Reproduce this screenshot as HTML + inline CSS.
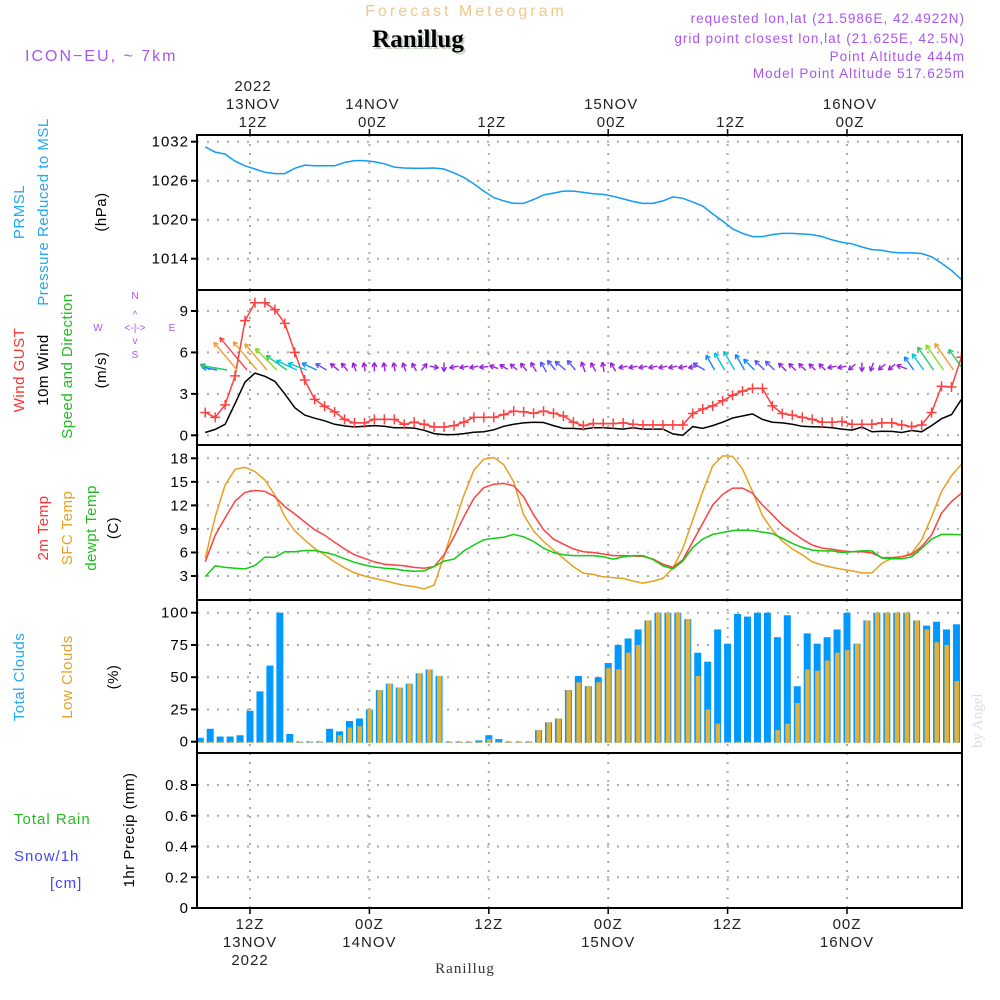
<!DOCTYPE html>
<html><head><meta charset="utf-8">
<style>
html,body{margin:0;padding:0;background:#fff;}
svg{display:block;font-family:"Liberation Sans",sans-serif;}
</style></head>
<body>
<svg id="chart" width="1000" height="1000" viewBox="0 0 1000 1000" xmlns="http://www.w3.org/2000/svg">
<defs><clipPath id="pc"><rect x="197" y="135" width="765" height="773"/></clipPath></defs>
<rect width="1000" height="1000" fill="#fff"/>
<text x="466" y="16" text-anchor="middle" font-size="16" letter-spacing="3" fill="#f0c888">Forecast Meteogram</text>
<text x="420" y="49" text-anchor="middle" font-family="Liberation Serif,serif" font-weight="bold" font-size="25" fill="#c4d4c4">Ranillug</text>
<text x="418" y="47" text-anchor="middle" font-family="Liberation Serif,serif" font-weight="bold" font-size="25" fill="#000">Ranillug</text>
<text x="25" y="61" font-size="16" letter-spacing="2" fill="#aa55ee">ICON−EU, ~ 7km</text>
<g font-size="13.5" letter-spacing="1" fill="#aa55ee" text-anchor="end">
<text x="965" y="23">requested lon,lat (21.5986E, 42.4922N)</text>
<text x="965" y="43">grid point closest lon,lat (21.625E, 42.5N)</text>
<text x="965" y="61">Point Altitude 444m</text>
<text x="965" y="78">Model Point Altitude 517.625m</text>
</g>
<g font-size="15" letter-spacing="0.5">
<text transform="translate(24,212) rotate(-90)" text-anchor="middle" fill="#22a8f0">PRMSL</text>
<text transform="translate(48,212) rotate(-90)" text-anchor="middle" fill="#22a8f0">Pressure Reduced to MSL</text>
<text transform="translate(106,212) rotate(-90)" text-anchor="middle" fill="#000">(hPa)</text>
<text transform="translate(24,370) rotate(-90)" text-anchor="middle" fill="#ff3333">Wind GUST</text>
<text transform="translate(48,370) rotate(-90)" text-anchor="middle" fill="#000">10m Wind</text>
<text transform="translate(72,366) rotate(-90)" text-anchor="middle" fill="#22bb22">Speed and Direction</text>
<text transform="translate(106,370) rotate(-90)" text-anchor="middle" fill="#000">(m/s)</text>
<text transform="translate(48,528) rotate(-90)" text-anchor="middle" fill="#ff3333">2m Temp</text>
<text transform="translate(72,528) rotate(-90)" text-anchor="middle" fill="#e8a020">SFC Temp</text>
<text transform="translate(96,528) rotate(-90)" text-anchor="middle" fill="#22bb22">dewpt Temp</text>
<text transform="translate(118,528) rotate(-90)" text-anchor="middle" fill="#000">(C)</text>
<text transform="translate(24,677) rotate(-90)" text-anchor="middle" fill="#22a8f0">Total Clouds</text>
<text transform="translate(72,677) rotate(-90)" text-anchor="middle" fill="#e8a020">Low Clouds</text>
<text transform="translate(118,677) rotate(-90)" text-anchor="middle" fill="#000">(%)</text>
<text x="14" y="824" fill="#22bb22" letter-spacing="1">Total  Rain</text>
<text x="14" y="861" fill="#4444ff" letter-spacing="1">Snow/1h</text>
<text x="50" y="888" fill="#4444ff" letter-spacing="1">[cm]</text>
<text transform="translate(134,830) rotate(-90)" text-anchor="middle" fill="#000">1hr Precip (mm)</text>
</g>
<g font-size="10" fill="#aa55ee" text-anchor="middle">
<text x="135" y="299">N</text><text x="135" y="358">S</text>
<text x="98" y="331">W</text><text x="172" y="331">E</text>
<text x="135" y="331">&lt;-|-&gt;</text>
<text x="135" y="318">^</text><text x="135" y="344">v</text>
</g>
<text transform="translate(982,748) rotate(-90)" font-family="Liberation Serif,serif" font-size="15" fill="#dddddd">by Angel</text>
<text x="465" y="973" text-anchor="middle" font-family="Liberation Serif,serif" font-size="15" fill="#333" letter-spacing="1">Ranillug</text>
<g id="plot"></g>
</svg>
<script>
const pressure = [1031.2,1030.4,1030.1,1029.0,1028.3,1027.8,1027.3,1027.1,1027.1,1027.9,1028.4,1028.3,1028.3,1028.3,1028.8,1029.1,1029.1,1028.9,1028.6,1028.1,1027.95,1027.9,1027.9,1027.95,1027.8,1027.2,1026.5,1025.5,1024.4,1023.4,1022.9,1022.5,1022.5,1023.1,1023.8,1024.1,1024.4,1024.4,1024.2,1024.0,1023.9,1023.6,1023.2,1022.8,1022.5,1022.5,1022.9,1023.5,1023.3,1022.7,1022.1,1020.9,1019.8,1018.6,1017.9,1017.4,1017.4,1017.7,1017.9,1017.9,1017.8,1017.7,1017.4,1016.9,1016.5,1016.3,1015.8,1015.4,1015.3,1015.0,1014.9,1014.9,1014.8,1014.3,1013.3,1012.2,1010.8];
const gust = [1.65,1.3,2.2,4.3,8.3,9.6,9.6,9.1,8.1,6.0,4.0,2.6,2.1,1.7,1.15,0.9,0.9,1.15,1.15,1.15,0.8,0.95,0.8,0.6,0.6,0.7,0.95,1.3,1.3,1.3,1.5,1.75,1.7,1.6,1.75,1.6,1.4,0.95,0.7,0.85,0.85,0.85,0.9,0.8,0.75,0.75,0.75,0.75,0.75,1.58,1.9,2.13,2.5,2.9,3.2,3.4,3.4,2.13,1.58,1.46,1.3,1.15,0.95,0.95,1.0,0.8,0.8,0.8,0.9,0.9,0.75,0.63,0.75,1.65,3.55,3.5,5.65];
const wind = [0.2,0.43,0.8,2.3,3.85,4.5,4.27,3.9,3.0,2.0,1.46,1.24,1.05,0.8,0.68,0.6,0.65,0.7,0.65,0.55,0.55,0.52,0.36,0.12,0.05,0.05,0.12,0.22,0.26,0.4,0.65,0.8,0.9,0.95,0.93,0.7,0.5,0.5,0.45,0.55,0.55,0.5,0.45,0.55,0.45,0.45,0.45,0.1,0.0,0.63,0.5,0.7,0.95,1.25,1.4,1.55,1.15,0.95,0.9,0.8,0.65,0.62,0.6,0.55,0.45,0.38,0.6,0.25,0.3,0.28,0.2,0.35,0.25,0.7,1.2,1.5,2.6];
const windDir = [-60,-80,-80,-40,-40,-40,-40,-45,-55,-65,-70,-65,-60,-50,-40,-20,-10,0,-10,-10,-20,-30,40,100,180,-100,-100,-100,-95,-70,-60,-50,-40,-30,-30,-40,-50,-40,-20,-30,-10,-30,-100,-100,-100,-100,-100,-100,-100,-100,-60,-30,-30,-30,-30,-45,-45,-45,-45,-45,-45,-45,-45,-100,-100,-130,180,-160,-130,-130,-70,-35,-35,-35,-35,-35,-35];
const windArrowSpeed = [1.0,1.5,2.8,3.8,4.5,3.9,3.6,3.2,2.6,2.3,2.0,1.6,1.2,1.0,0.9,0.8,0.8,0.8,0.8,0.8,0.8,0.8,0.8,0.8,0.8,0.8,0.8,0.8,0.8,0.8,0.8,0.8,0.9,1.0,1.1,1.2,1.3,1.2,1.0,0.9,0.9,0.9,0.8,0.8,0.8,0.8,0.8,0.8,0.8,0.8,1.3,1.7,2.0,2.2,1.8,1.5,1.3,1.2,1.0,0.9,0.9,0.8,0.8,0.8,0.8,0.8,0.8,0.8,0.8,0.8,1.0,1.6,2.0,2.9,3.2,3.4,2.6];
const temp2m = [4.8,8.2,10.4,12.55,13.65,13.9,13.8,13.1,11.85,10.9,9.9,8.9,8.2,7.3,6.45,5.7,5.25,4.8,4.5,4.4,4.3,4.1,4.0,4.2,5.7,8.0,10.55,12.9,14.25,14.7,14.8,14.5,13.1,10.8,8.9,7.7,7.05,6.45,6.1,6.0,5.8,5.6,5.6,5.55,5.5,5.15,4.5,4.1,5.05,7.4,9.7,12.05,13.4,14.2,14.2,13.55,12.05,10.8,9.5,8.55,7.7,6.95,6.55,6.4,6.2,6.1,6.1,5.95,5.35,5.35,5.45,5.75,6.75,8.25,11.0,12.5,13.55];
const tempSfc = [5.25,10.55,14.6,16.6,16.85,16.3,15.25,13.3,10.55,8.75,7.6,6.5,5.7,4.8,4.05,3.4,3.0,2.7,2.4,2.1,1.8,1.65,1.35,1.85,5.5,9.5,13.3,16.5,17.9,18.1,17.2,15.0,10.8,8.75,7.4,6.3,5.25,4.2,3.35,3.2,2.9,2.8,2.7,2.35,2.1,2.35,2.7,4.0,6.5,10.15,13.75,17.05,18.3,18.25,16.65,13.75,10.7,8.85,7.45,6.45,5.7,4.8,4.4,4.1,3.85,3.65,3.4,3.4,4.6,5.25,5.45,5.9,7.6,10.55,13.75,15.8,17.25];
const dewpt = [2.9,4.3,4.1,4.0,3.9,4.35,5.4,5.4,6.1,6.1,6.25,6.25,6.0,5.7,5.2,4.75,4.4,4.15,4.0,3.9,3.7,3.6,3.65,4.2,4.9,5.15,6.2,6.95,7.6,7.8,7.95,8.3,8.0,7.4,6.55,6.0,5.7,5.6,5.6,5.6,5.45,5.15,5.45,5.6,5.6,5.1,4.3,3.9,4.9,6.65,7.7,8.3,8.55,8.8,8.85,8.8,8.6,8.4,7.8,7.15,6.65,6.3,6.2,6.2,6.0,6.1,6.2,6.2,5.3,5.2,5.2,5.45,6.5,7.7,8.3,8.3,8.25];
const totalClouds = [3,10,4,4,5,24,39,59,100,6,0,0,0,10,8,16,18,25,40,45,42,45,53,56,51,0,0,0,1,5,2,0,0,0,9,15,18,40,51,43,50,61,75,80,87,94,100,100,100,95,69,62,87,76,99,97,100,100,81,98,43,84,76,81,87,100,76,94,100,100,100,100,94,90,93,87,91];
const lowClouds = [0,0,0,0,0,0,0,0,0,0,0,0,0,0,5,11,12,25,40,45,42,45,53,56,51,0,0,0,0,2,0,0,0,0,9,15,18,40,46,43,46,57,56,69,75,94,100,100,100,95,51,25,14,0,0,0,0,0,9,14,30,56,55,63,69,71,76,94,100,100,100,100,94,87,77,75,47];
const pressureTicks = [1014,1020,1026,1032];
const windTicks = [0,3,6,9];
const tempTicks = [3,6,9,12,15,18];
const cloudTicks = [0,25,50,75,100];
const precipTicks = [0,0.2,0.4,0.6,0.8];
const timeTicks = [12,24,36,48,60,72];
const topLabels = [["2022","13NOV","12Z"],["14NOV","00Z"],["12Z"],["15NOV","00Z"],["12Z"],["16NOV","00Z"]];
const bottomLabels = [["12Z","13NOV","2022"],["00Z","14NOV"],["12Z"],["00Z","15NOV"],["12Z"],["00Z","16NOV"]];

const NS = "http://www.w3.org/2000/svg";
const plot = document.getElementById('plot');
const X0 = 197, X1 = 962;
function xh(h){ return 250 + (h-12)*9.95; }
function lin(v0,y0,v1,y1){ return v => y0 + (v-v0)*(y1-y0)/(v1-v0); }
const yP = lin(1014,258.7,1032,141.7);
const yW = lin(0,435.3,9,311);
const yT = lin(3,576,18,458.3);
const yC = lin(0,741.7,100,612.7);
const yR = lin(0,908,0.8,785);
const panels = [[135,290],[290,445],[445,600],[600,753],[753,908]];
function mk(tag, attrs, parent){
  const e = document.createElementNS(NS, tag);
  for (const k in attrs) e.setAttribute(k, attrs[k]);
  (parent||plot).appendChild(e);
  return e;
}
const marks = mk('g', {'clip-path':'url(#pc)'});
function gridAndAxis(pi, ticks, yf, fmt, name){
  const [t,b] = panels[pi];
  const g = mk('g', {});
  
  
  ticks.forEach(v => {
    const y = yf(v);
    const gl = mk('line', {x1:X0, x2:X1, y1:y, y2:y, stroke:'#aaa', 'stroke-width':2, 'stroke-dasharray':'2 8'}, g);
    
    
    mk('line', {x1:X0-6, x2:X0, y1:y, y2:y, stroke:'#000', 'stroke-width':2}, g);
    const tx = mk('text', {x:X0-8, y:y+5, 'text-anchor':'end', 'font-size':15, 'letter-spacing':1, fill:'#000'}, g);
    tx.textContent = fmt(v);
    
    
  });
  timeTicks.forEach(h => {
    const x = xh(h);
    mk('line', {x1:x, x2:x, y1:t, y2:b, stroke:'#aaa', 'stroke-width':2, 'stroke-dasharray':'2 7'}, g);
  });
}
gridAndAxis(0, pressureTicks, yP, v=>String(v), 'pressure');
gridAndAxis(1, windTicks, yW, v=>String(v), 'wind');
gridAndAxis(2, tempTicks, yT, v=>String(v), 'temperature');
gridAndAxis(3, cloudTicks, yC, v=>String(v), 'clouds');
gridAndAxis(4, precipTicks, yR, v=>v===0?'0':v.toFixed(1), 'precip');
plot.appendChild(marks);

function line(arr, yf, color, name){
  const pts = arr.map((v,i)=> xh(7.5+i).toFixed(1)+','+yf(v).toFixed(1)).join(' ');
  const p = mk('polyline', {points:pts, fill:'none', stroke:color, 'stroke-width':1.5}, marks);
  
  
  return p;
}
totalClouds.forEach((v,i)=>{
  const x = xh(7+i), y = yC(v);
  const r = mk('rect', {x:x-3.5, y:y, width:7, height:Math.max(yC(0)-y,0)+1, fill:'#0099ff'}, marks);
  
  
});
lowClouds.forEach((v,i)=>{
  const x = xh(7+i), y = yC(v);
  const r = mk('rect', {x:x-2, y:y, width:4.5, height:Math.max(yC(0)-y,0)+1, fill:'#e8b030'}, marks);
  
  
});
line(pressure, yP, '#119cf0', 'pressure-line');
line(wind, yW, '#000', 'wind-speed-line');
line(gust, yW, '#ff4040', 'wind-gust-line');
gust.forEach((v,i)=>{
  const x = xh(7.5+i), y = yW(v);
  const m = mk('path', {d:`M${x-5},${y}H${x+5}M${x},${y-5}V${y+5}`, stroke:'#ff4040', 'stroke-width':1.5}, marks);
  
  
});
function spdColor(s){
  if (s<1.1) return '#9922dd';
  if (s<1.5) return '#5555ff';
  if (s<2.0) return '#1188ff';
  if (s<2.4) return '#00c8d8';
  if (s<3.0) return '#22cc66';
  if (s<3.4) return '#88dd22';
  if (s<4.0) return '#f0a030';
  return '#ff4444';
}
windDir.forEach((d,i)=>{
  const s = windArrowSpeed[i];
  const L = 9 + Math.max(0, s-0.8)*9;
  const a = d*Math.PI/180;
  const dx = Math.sin(a), dy = -Math.cos(a);
  let x0 = xh(7.5+i)+2, y0 = 370;
  if (L <= 12) { x0 = xh(7.5+i) - dx*L/2; y0 = 367 - dy*L/2; }
  const x1 = x0 + L*dx, y1 = y0 + L*dy;
  const h1 = a + Math.PI - 0.5, h2 = a + Math.PI + 0.5;
  const c = spdColor(s);
  const p = mk('path', {d:`M${x0},${y0}L${x1},${y1}M${x1},${y1}L${x1+5*Math.sin(h1)},${y1-5*Math.cos(h1)}M${x1},${y1}L${x1+5*Math.sin(h2)},${y1-5*Math.cos(h2)}`, stroke:c, 'stroke-width':1.4, fill:'none'}, marks);
  
  
});
line(tempSfc, yT, '#e8a020', 'sfc-temp-line');
line(temp2m, yT, '#ff4040', 'temp-2m-line');
line(dewpt, yT, '#11cc11', 'dewpoint-line');

panels.forEach(([t,b],i)=>{
  const r = mk('rect', {x:X0, y:t, width:X1-X0, height:b-t, fill:'none', stroke:'#000', 'stroke-width':2});
  
  
});
mk('line', {x1:X0, x2:X1, y1:908, y2:908, stroke:'#000', 'stroke-width':2, 'stroke-dasharray':'4 2'});
timeTicks.forEach((h,i)=>{
  const x = xh(h);
  mk('line', {x1:x, x2:x, y1:129, y2:135, stroke:'#000', 'stroke-width':1.5});
  mk('line', {x1:x, x2:x, y1:908, y2:914, stroke:'#000', 'stroke-width':1.5});
  const tl = topLabels[i];
  tl.forEach((s,j)=>{
    const t = mk('text', {x:x+3, y:127-(tl.length-1-j)*18, 'text-anchor':'middle', 'font-size':15, 'letter-spacing':1, fill:'#222'});
    t.textContent = s;
    
    
  });
  bottomLabels[i].forEach((s,j)=>{
    const t = mk('text', {x:x, y:929+j*18, 'text-anchor':'middle', 'font-size':15, 'letter-spacing':1, fill:'#222'});
    t.textContent = s;
    
    
  });
});
</script>
</body></html>
